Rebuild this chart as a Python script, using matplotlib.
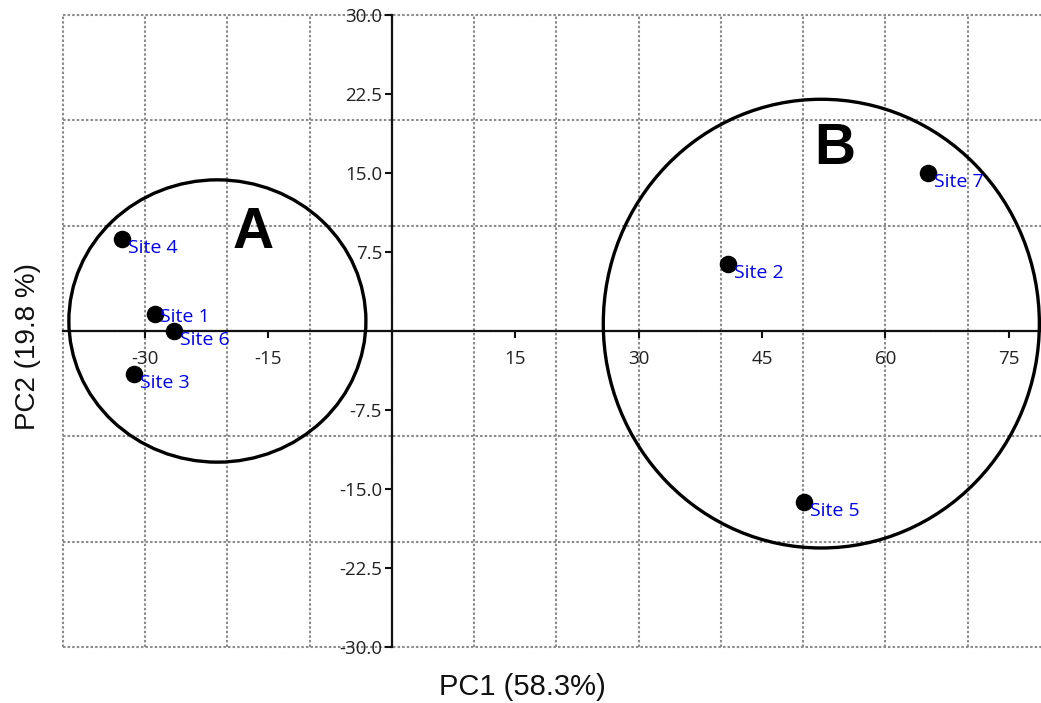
import matplotlib
matplotlib.use("Agg")
import matplotlib.pyplot as plt
import numpy as np
from matplotlib.patches import Ellipse
from matplotlib.ticker import FixedLocator

# ---- data ----
sites = ["Site 1", "Site 2", "Site 3", "Site 4", "Site 5", "Site 6", "Site 7"]
pc1 = [-28.8, 40.8, -31.3, -32.8, 50.1, -26.5, 65.2]
pc2 = [1.6, 6.4, -4.1, 8.7, -16.2, 0.0, 15.0]

groups = ["A", "B"]
group_cx = [-21.2, 52.2]
group_cy = [0.95, 0.7]
group_w = [36.1, 53.0]
group_h = [26.8, 42.6]
group_label_x = [-16.8, 53.9]
group_label_y = [9.3, 17.3]

xticks = [-30, -15, 15, 30, 45, 60, 75]
yticks = [-30, -22.5, -15, -7.5, 7.5, 15, 22.5, 30]
xlabel = "PC1 (58.3%)"
ylabel = "PC2 (19.8 %)"

# label offsets in pixels (style)
offsets = {"Site 1": (5, -3)}
default_offset = (6, -9)

fig = plt.figure(figsize=(10.41, 7.03), dpi=100)
ax = fig.add_axes([62.7 / 1041, 1 - 647 / 703, 1 - 62.7 / 1041, 632 / 703])
ax.set_xlim(-40, 78.9)
ax.set_ylim(-30, 30)

# dotted grid every 10 units
grid_style = dict(color="#8c8c8c", linestyle=(0, (1.2, 1.0)), linewidth=1.5, zorder=0, clip_on=False)
ax.vlines(np.arange(-40, 79, 10), -30, 30, **grid_style)
ax.hlines(np.arange(-30, 31, 10), -40, 78.9, **grid_style)

for s in ["top", "right"]:
    ax.spines[s].set_visible(False)
ax.spines["left"].set_position(("data", 0))
ax.spines["bottom"].set_position(("data", 0))
for s in ["left", "bottom"]:
    ax.spines[s].set_linewidth(1.6)
    ax.spines[s].set_color("#111111")
    ax.spines[s].set_zorder(2)

ax.xaxis.set_major_locator(FixedLocator(xticks))
ax.yaxis.set_major_locator(FixedLocator(yticks))
ax.set_xticklabels([f"{v:d}" for v in xticks])
ax.set_yticklabels([f"{v:.1f}" for v in yticks])
ax.tick_params(which="major", direction="out", length=5, width=1.5, color="#111111",
               labelsize=13.5, labelcolor="#222222")
ax.tick_params(axis="x", which="major", pad=9)
ax.tick_params(axis="y", which="major", pad=2)
for lab in ax.get_xticklabels() + ax.get_yticklabels():
    lab.set_fontfamily(["Open Sans", "DejaVu Sans"])

# group ellipses
for g, cx, cy, w, h, lx, ly in zip(groups, group_cx, group_cy, group_w, group_h,
                                   group_label_x, group_label_y):
    ax.add_patch(Ellipse((cx, cy), w, h, fill=False, edgecolor="black",
                         linewidth=2.4, zorder=3, clip_on=False))
    ax.text(lx, ly, g, fontsize=41, fontweight="bold", family=["Liberation Sans", "DejaVu Sans"],
            ha="center", va="center", zorder=4)

# points
ax.scatter(pc1, pc2, s=135, color="black", zorder=5, clip_on=False)
for name, x, y in zip(sites, pc1, pc2):
    dx, dy = offsets.get(name, default_offset)
    ax.annotate(name, (x, y), xytext=(dx, dy), textcoords="offset pixels",
                ha="left", va="center", color="#0000ff", fontsize=14,
                family=["Open Sans", "DejaVu Sans"], zorder=6)

fig.text(522.5 / 1041, 1 - 687 / 703, xlabel, ha="center", va="center", fontsize=21,
         family=["Liberation Sans", "DejaVu Sans"], color="#111111")
fig.text(28 / 1041, 1 - 347 / 703, ylabel, ha="center", va="center", fontsize=20,
         rotation=90, family=["Liberation Sans", "DejaVu Sans"], color="#111111")

fig.savefig("out.png", dpi=100)
